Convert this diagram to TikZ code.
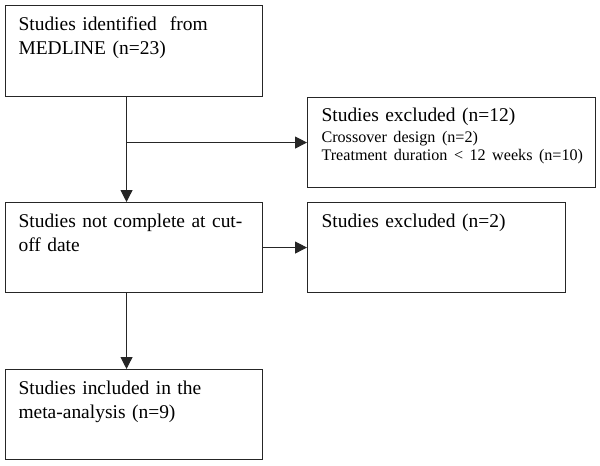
\documentclass[tikz,border=0pt]{standalone}
\usepackage{fontspec}
\setmainfont{Liberation Serif}
\usetikzlibrary{arrows.meta}
\newcommand{\notefont}{\fontsize{12.1}{13.5}\selectfont}

\begin{document}
\begin{tikzpicture}[x=0.75pt,y=-0.75pt,
  flowbox/.style={draw=black!85,line width=0.8pt,rectangle,anchor=north west,
    align=left,inner ysep=0pt,font=\fontsize{14.6}{18}\selectfont},
  flowarrow/.style={draw=black!85,line width=0.8pt,-{Triangle[length=9pt,width=9pt]}}]
\useasboundingbox (0,0) rectangle (600,465);
% boxes
\node[flowbox,inner xsep=9.75pt,text width=173.25pt,text height=18.75pt,text depth=49.5pt] (ident) at (5,5)
  {Studies identified\ \ from\\MEDLINE (n=23)};
\node[flowbox,inner xsep=10.5pt,text width=195pt,text height=18pt,text depth=49.5pt] (excl) at (307,97)
  {Studies excluded (n=12)\\[-2.25pt]
   \parbox[t]{210pt}{\notefont Crossover design (n=2)\\Treatment duration < 12 weeks (n=10)}};
\node[flowbox,inner xsep=9.75pt,text width=173.25pt,text height=18.75pt,text depth=48.75pt] (pending) at (5,202)
  {Studies not complete at cut-\\off date};
\node[flowbox,inner xsep=10.5pt,text width=172.5pt,text height=18.75pt,text depth=48.75pt] (cutoff) at (307,202)
  {Studies excluded (n=2)};
\node[flowbox,inner xsep=9.75pt,text width=173.25pt,text height=18.75pt,text depth=48.75pt] (incl) at (5,369)
  {Studies included in the\\meta-analysis (n=9)};
% arrows
\draw[flowarrow] ([xshift=-5.625pt]ident.south) -- ([xshift=-5.625pt]pending.north);
\draw[flowarrow] ([xshift=-5.625pt]ident.south |- excl.west) -- (excl.west);
\draw[flowarrow] (pending.east) -- (cutoff.west);
\draw[flowarrow] ([xshift=-5.625pt]pending.south) -- ([xshift=-5.625pt]incl.north);
\end{tikzpicture}
\end{document}
